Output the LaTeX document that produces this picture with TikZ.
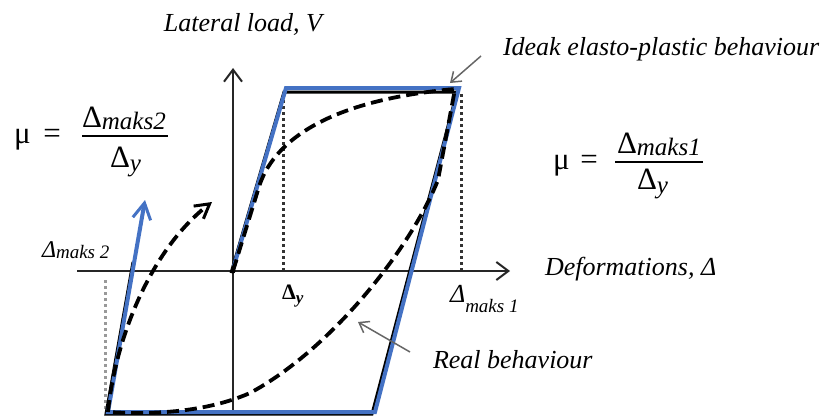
\documentclass[tikz,border=0pt]{standalone}
\usepackage{fontspec}
\setmainfont{Liberation Serif}
\usetikzlibrary{arrows.meta}
\definecolor{ideal}{RGB}{68,114,196}
\begin{document}
\begin{tikzpicture}[x=1pt,y=-1pt,
  txt/.style={inner sep=0pt, outer sep=0pt},
  lbl/.style={txt, font=\fontsize{26}{30}\selectfont\itshape},
  frm/.style={txt, font=\fontsize{31}{36}\selectfont},
  axisline/.style={line width=2pt, draw=black!85},
  axishead/.style={-{Straight Barb[length=12pt,width=18pt,line width=2pt]}},
  blueline/.style={line width=4pt, draw=ideal, line join=miter},
  underline/.style={line width=3pt, draw=black},
  realline/.style={line width=3.8pt, draw=black, dash pattern=on 12pt off 6pt},
  dotline/.style={line width=3pt, draw=black!80, dash pattern=on 2.5pt off 3.5pt},
  noteline/.style={line width=1.5pt, draw=black!60, -{Straight Barb[length=9pt,width=13pt,line width=1.5pt]}},
  fracbar/.style={line width=2.5pt, draw=black}]
\useasboundingbox (0,0) rectangle (827,420);

% key points
\coordinate (O) at (233,271);
\coordinate (Ob) at (234,266);
\coordinate (A) at (286,88);
\coordinate (B) at (459,88);
\coordinate (C) at (375,412);
\coordinate (D) at (108,412);
\coordinate (E) at (145,200);
\coordinate (xl) at (77,271);
\coordinate (xr) at (510,271);
\coordinate (yb) at (233,412);
\coordinate (yt) at (233,68);

% dotted guides
\coordinate (dy1) at (283,94);
\coordinate (dy2) at (283,271);
\coordinate (dm1) at (461,94);
\coordinate (dm2) at (461,271);
\coordinate (dl1) at (105,280);
\coordinate (dl2) at (105,410);
\draw[dotline] (dy1) -- (dy2);
\draw[dotline] (dm1) -- (dm2);
\draw[dotline, draw=black!40] (dl1) -- (dl2);

% axes
\draw[axisline, axishead] (yb) -- (yt);
\draw[axisline, axishead] (xl) -- (xr);
\fill[black] (O) circle (2.5pt);

% black underlay of the ideal loop
\draw[underline] (231,273) -- (284,92) -- (457,92) -- (372,414) -- (106,414) -- (133,262);

% ideal elasto-plastic loop (blue)
\draw[blueline, -{Straight Barb[length=16pt,width=18pt,line width=3pt]}]
  (Ob) -- (A) -- (B) -- (C) -- (D) -- (E);

% real behaviour (dashed)
\coordinate (r1) at (258,190);
\coordinate (r2) at (455,89);
\coordinate (r3) at (438,180);
\coordinate (r4) at (250,393);
\coordinate (r5) at (212,202);
\draw[realline] (O) -- (r1) .. controls (272,140) and (330,100) .. (r2)
  -- (r3) .. controls (410,250) and (330,350) .. (r4)
  .. controls (200,415) and (140,414) .. (D);
\draw[realline, -{Straight Barb[length=14pt,width=16pt,line width=3pt]}]
  (D) .. controls (115,340) and (150,250) .. (r5);

% annotation arrows
\coordinate (n1) at (481,56);
\coordinate (n1t) at (450,83);
\coordinate (n2) at (410,352);
\coordinate (n2t) at (358,322);
\draw[noteline] (n1) -- (n1t);
\draw[noteline] (n2) -- (n2t);

% labels
\node[lbl, anchor=base] (lat) at (243,32) {Lateral load, V};
\node[lbl, anchor=base west] (ide) at (503,56) {Ideak elasto-plastic behaviour};
\node[lbl, anchor=base west] (def) at (545,275) {Deformations, Δ};
\node[lbl, anchor=base west] (rea) at (433,368) {Real behaviour};
\node[txt, anchor=base west] (dm2) at (42,257)
  {\fontsize{24}{28}\selectfont\itshape Δ\raisebox{-1.5pt}{\fontsize{19}{22}\selectfont maks 2}};
\node[txt, anchor=base west] (dm1) at (450,302)
  {\fontsize{26}{28}\selectfont\itshape Δ\raisebox{-10pt}{\fontsize{19}{22}\selectfont maks 1}};
\node[txt, anchor=base west] (dyl) at (282,299)
  {\fontsize{22}{26}\selectfont\bfseries Δ\raisebox{-4pt}{\fontsize{17}{20}\selectfont\itshape y}};

% left formula
\node[frm, anchor=base west] (mu2) at (14,143) {μ};
\node[frm, anchor=center] (eq2) at (52,136) {=};
\node[frm, anchor=base west] (num2) at (82,127)
  {Δ\raisebox{-2pt}{\fontsize{25}{28}\selectfont\itshape maks2}};
\draw[fracbar] (82,136) -- (168,136);
\node[frm, anchor=base west] (den2) at (110,167)
  {Δ\raisebox{-4pt}{\fontsize{25}{28}\selectfont\itshape y}};

% right formula
\node[frm, anchor=base west] (mu1) at (553,169) {μ};
\node[frm, anchor=center] (eq1) at (589,162) {=};
\node[frm, anchor=base west] (num1) at (617,153)
  {Δ\raisebox{-2pt}{\fontsize{25}{28}\selectfont\itshape maks1}};
\draw[fracbar] (615,162) -- (703,162);
\node[frm, anchor=base west] (den1) at (637,189)
  {Δ\raisebox{-4pt}{\fontsize{25}{28}\selectfont\itshape y}};
\end{tikzpicture}
\end{document}
